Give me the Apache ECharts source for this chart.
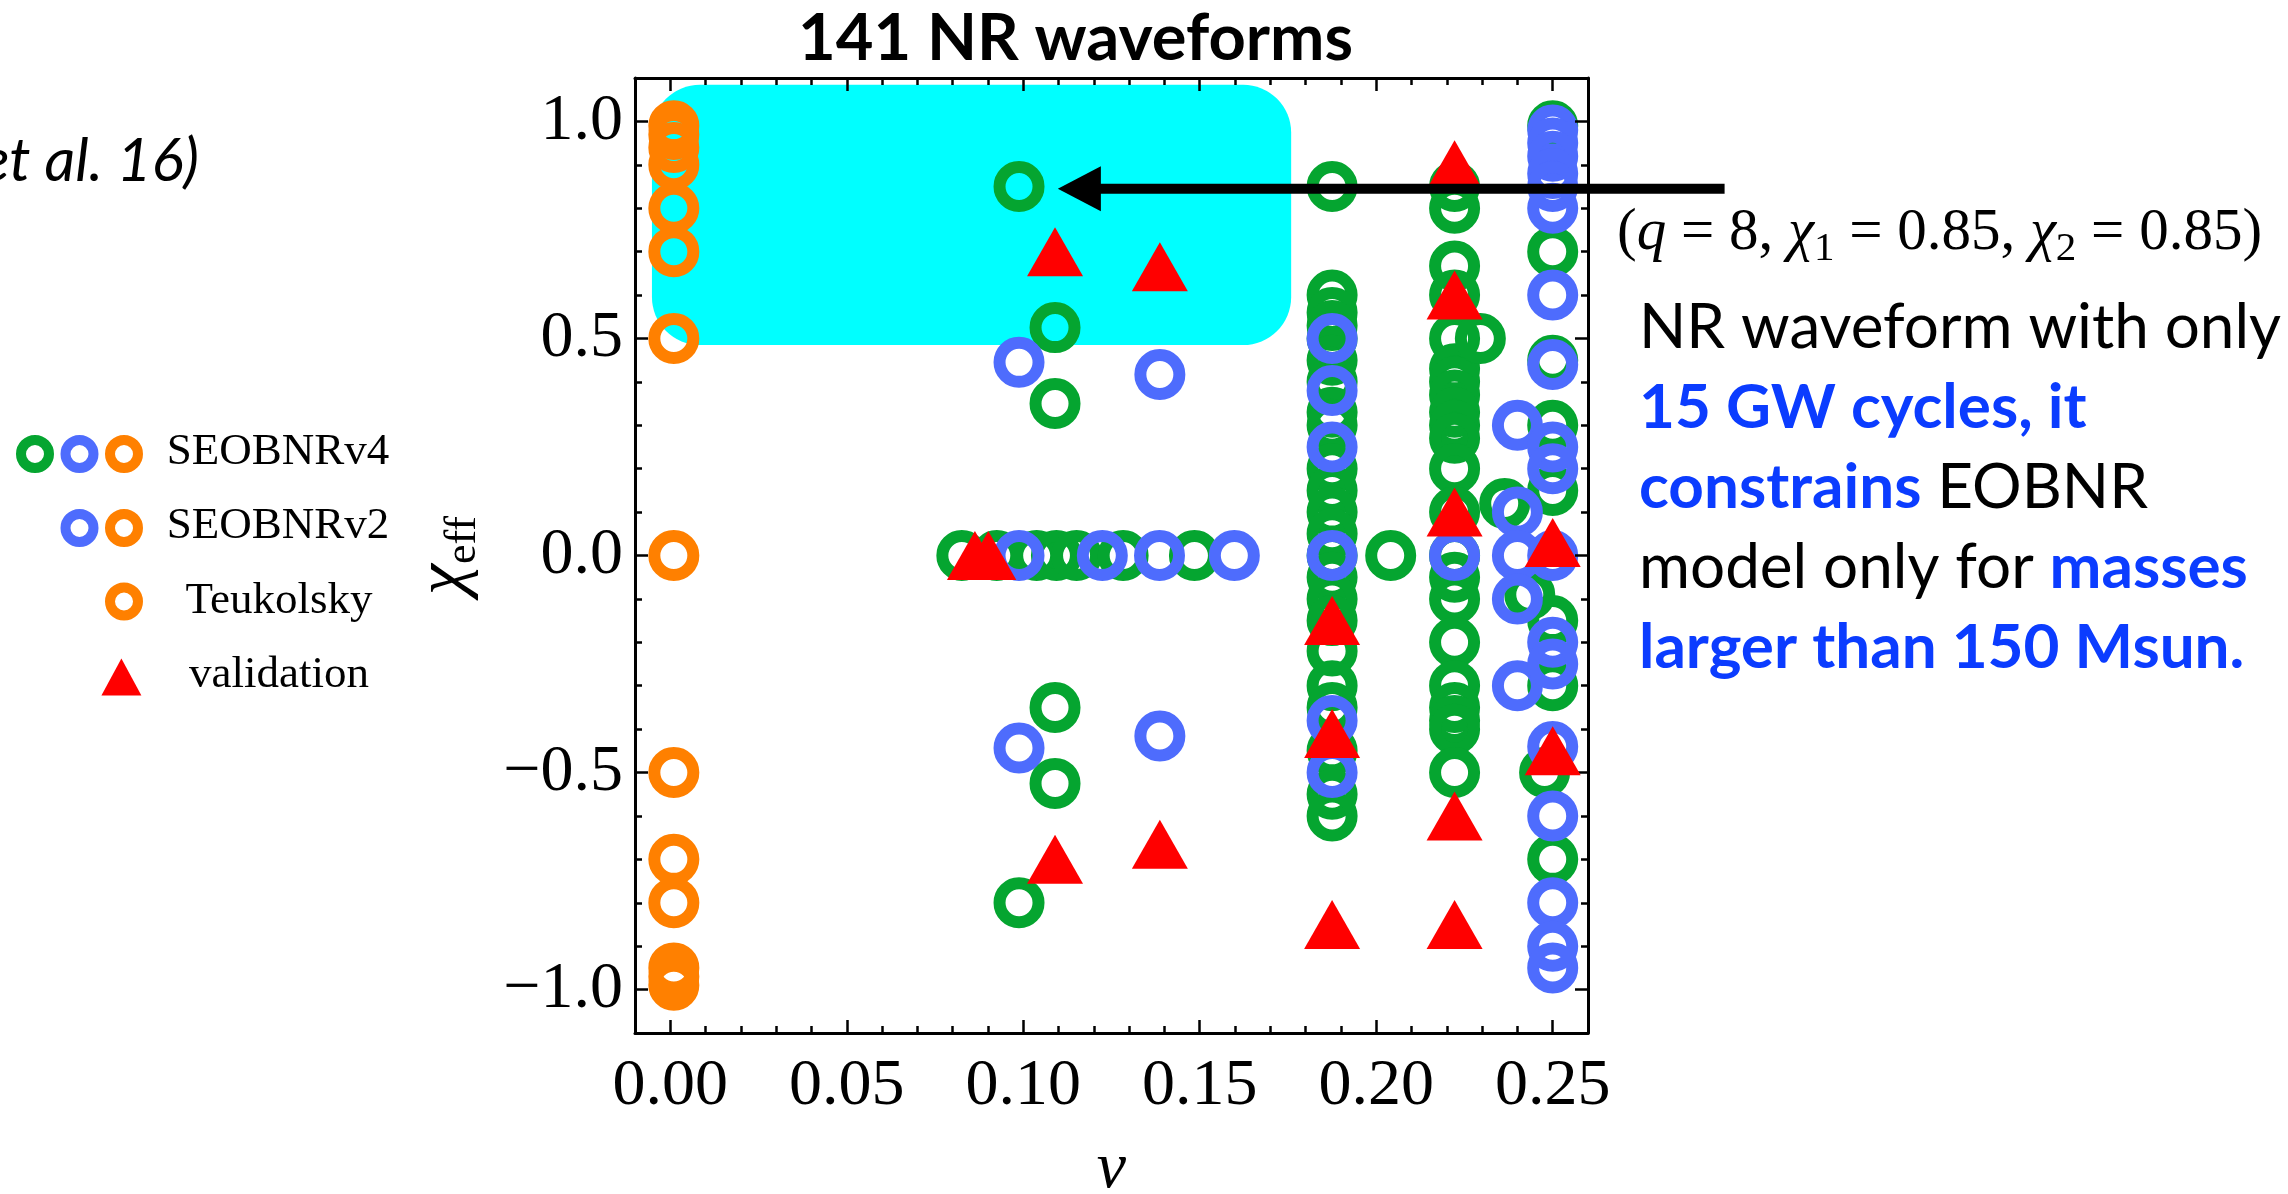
<!DOCTYPE html>
<html><head><meta charset="utf-8">
<script src="https://cdn.jsdelivr.net/npm/echarts@6/dist/echarts.min.js"></script>
<style>html,body{margin:0;padding:0;background:#fff}#c{width:2288px;height:1194px}</style>
</head><body><div id="c"></div>
<script>
// ---------------- data ----------------
const xMajorTicks = [0.00, 0.05, 0.10, 0.15, 0.20, 0.25];
const yMajorTicks = [-1.0, -0.5, 0.0, 0.5, 1.0];

// [nu, chi_eff]
const seobnrv4Points = [
  [0.0988, 0.85], [0.109, 0.525], [0.109, 0.35], [0.109, -0.35], [0.109, -0.525], [0.0988, -0.80],
  [0.0826, 0], [0.0925, 0], [0.1038, 0], [0.1094, 0], [0.1151, 0], [0.1283, 0], [0.1485, 0], [0.2041, 0],
  [0.1875, 0.85], [0.1875, 0.60], [0.1875, 0.56], [0.1875, 0.53], [0.1875, 0.50], [0.1875, 0.45],
  [0.1875, 0.40], [0.1875, 0.33], [0.1875, 0.30], [0.1875, 0.20], [0.1875, 0.15], [0.1875, 0.10],
  [0.1875, 0.05], [0.1875, 0.00], [0.1875, -0.05], [0.1875, -0.10], [0.1875, -0.15], [0.1875, -0.22],
  [0.1875, -0.30], [0.1875, -0.35], [0.1875, -0.45], [0.1875, -0.55], [0.1875, -0.60],
  [0.2222, 0.85], [0.2222, 0.80], [0.2222, 0.667], [0.2222, 0.60], [0.2222, 0.50], [0.2222, 0.43],
  [0.2222, 0.40], [0.2222, 0.37], [0.2222, 0.33], [0.2222, 0.30], [0.2222, 0.27], [0.2222, 0.20],
  [0.2222, 0.10], [0.2222, 0.00], [0.2222, -0.05], [0.2222, -0.10], [0.2222, -0.20], [0.2222, -0.30],
  [0.2222, -0.35], [0.2222, -0.38], [0.2222, -0.40], [0.2222, -0.50],
  [0.2295, 0.50], [0.2364, 0.12], [0.2435, -0.09],
  [0.25, 0.99], [0.25, 0.70], [0.25, 0.45], [0.25, 0.30], [0.25, 0.15], [0.25, -0.15], [0.25, -0.30],
  [0.25, -0.70], [0.2477, -0.50]
];
const seobnrv2Points = [
  [0.0988, 0.445], [0.1387, 0.417], [0.0988, -0.4435], [0.1387, -0.4157],
  [0.0988, 0], [0.1224, 0], [0.1386, 0], [0.1598, 0],
  [0.1875, 0.50], [0.1875, 0.38], [0.1875, 0.25], [0.1875, 0.00], [0.1875, -0.38], [0.1875, -0.50],
  [0.2222, 0.00],
  [0.24, 0.30], [0.24, 0.10], [0.24, 0.00], [0.24, -0.10], [0.24, -0.30],
  [0.25, 0.98], [0.25, 0.95], [0.25, 0.92], [0.25, 0.88], [0.25, 0.85], [0.25, 0.80], [0.25, 0.60],
  [0.25, 0.44], [0.25, 0.25], [0.25, 0.20], [0.25, 0.00], [0.25, -0.20], [0.25, -0.25], [0.25, -0.44],
  [0.25, -0.60], [0.25, -0.80], [0.25, -0.90], [0.25, -0.95]
];
const teukolskyPoints = [
  [0.001, 0.99], [0.001, 0.97], [0.001, 0.94], [0.001, 0.90], [0.001, 0.80], [0.001, 0.70], [0.001, 0.50],
  [0.001, 0.00], [0.001, -0.50], [0.001, -0.70], [0.001, -0.80], [0.001, -0.95], [0.001, -0.97], [0.001, -0.99]
];
const validationPoints = [
  [0.0863, 0], [0.0901, 0], [0.109, 0.70], [0.1387, 0.665], [0.109, -0.70], [0.1387, -0.665],
  [0.1875, -0.15], [0.1875, -0.41], [0.1875, -0.85],
  [0.2222, 0.90], [0.2222, 0.60], [0.2222, 0.10], [0.2222, -0.60], [0.2222, -0.85],
  [0.25, 0.03], [0.25, -0.45]
];
const legendLabels = ['SEOBNRv4', 'SEOBNRv2', 'Teukolsky', 'validation'];
const titleText = '141 NR waveforms';

// annotation anchors (data coordinates)
const highlightBox = { nuMin: -0.0052, nuMax: 0.1759, chiMin: 0.4847, chiMax: 1.0845 };
const arrowSpec = { tipNu: 0.1098, tailNu: 0.2987, chi: 0.8446 };

// ---------------- styles ----------------
const GREEN = '#05a530', BLUE = '#4e6cfd', ORANGE = '#ff8000', RED = '#ff0000', CYAN = '#00ffff', TXTBLUE = '#0b3cff';
const SERIF = '"Liberation Serif", "DejaVu Serif", serif';
const SANS = 'Lato, "Open Sans", sans-serif';

const xMinor = [], yMinor = [];
for (let i = 0; i <= 25; i++) xMinor.push(+(i * 0.01).toFixed(2));
for (let i = -10; i <= 10; i++) yMinor.push(+(i * 0.1).toFixed(1));

function fmtY(v) { return (v < 0 ? '\u2212' : '') + Math.abs(v).toFixed(1); }

function ax(kind, position, ticks, len, showLine, extra) {
  const base = {
    type: 'value', gridIndex: 0, position: position, z: 3,
    min: kind === 'x' ? -0.01 : -1.1, max: kind === 'x' ? 0.26 : 1.1,
    axisLine: { show: showLine, onZero: false, lineStyle: { color: '#000', width: 3 } },
    axisTick: { show: true, inside: true, length: len, customValues: ticks, lineStyle: { color: '#000', width: 2.5 } },
    axisLabel: { show: false }, splitLine: { show: false }, minorTick: { show: false }, axisPointer: { show: false }
  };
  return Object.assign(base, extra || {});
}

const chart = echarts.init(document.getElementById('c'), null, { renderer: 'canvas' });

const ring = c => ({ color: 'rgba(0,0,0,0)', borderColor: c, borderWidth: 12, opacity: 1 });

const option = {
  animation: false,
  backgroundColor: '#fff',
  title: {
    text: titleText, left: 793, top: 2,
    textStyle: { fontFamily: SANS, fontWeight: 'bold', fontSize: 65, color: '#000' }
  },
  grid: { left: 635, right: 700, top: 78, bottom: 161, containLabel: false, outerBoundsMode: 'none' },
  xAxis: [
    ax('x', 'bottom', xMajorTicks, 13, true, {
      axisLabel: { show: true, customValues: xMajorTicks, formatter: v => v.toFixed(2),
        fontFamily: SERIF, fontSize: 66, color: '#000', margin: 21 },
      name: 'ν', nameLocation: 'middle', nameGap: 104,
      nameTextStyle: { fontFamily: SERIF, fontStyle: 'italic', fontSize: 66, color: '#000' }
    }),
    ax('x', 'bottom', xMinor, 7, false),
    ax('x', 'top', xMajorTicks, 13, true),
    ax('x', 'top', xMinor, 7, false)
  ],
  yAxis: [
    ax('y', 'left', yMajorTicks, 13, true, {
      axisLabel: { show: true, customValues: yMajorTicks, formatter: fmtY,
        fontFamily: SERIF, fontSize: 66, color: '#000', margin: 12 },
      name: '{c|χ}{s|eff}', nameLocation: 'middle', nameRotate: 90, nameGap: 150,
      nameTextStyle: { rich: {
        c: { fontFamily: SERIF, fontStyle: 'italic', fontSize: 70, color: '#000' },
        s: { fontFamily: SERIF, fontSize: 44, color: '#000', verticalAlign: 'bottom', padding: [36, 0, 0, 0] }
      } }
    }),
    ax('y', 'left', yMinor, 7, false),
    ax('y', 'right', yMajorTicks, 13, true),
    ax('y', 'right', yMinor, 7, false)
  ],
  series: [
    { type: 'scatter', name: legendLabels[0], data: seobnrv4Points, xAxisIndex: 0, yAxisIndex: 0,
      symbol: 'circle', symbolSize: 39, itemStyle: ring(GREEN), z: 2, silent: true, clip: false, emphasis: { disabled: true } },
    { type: 'scatter', name: legendLabels[1], data: seobnrv2Points, xAxisIndex: 0, yAxisIndex: 0,
      symbol: 'circle', symbolSize: 39, itemStyle: ring(BLUE), z: 2, silent: true, clip: false, emphasis: { disabled: true } },
    { type: 'scatter', name: legendLabels[2], data: teukolskyPoints, xAxisIndex: 0, yAxisIndex: 0,
      symbol: 'circle', symbolSize: 39, itemStyle: ring(ORANGE), z: 2, silent: true, clip: false, emphasis: { disabled: true } },
    { type: 'scatter', name: legendLabels[3], data: validationPoints, xAxisIndex: 0, yAxisIndex: 0,
      symbol: 'triangle', symbolSize: [56, 49], itemStyle: { color: RED, opacity: 1 }, z: 4, silent: true, clip: false, emphasis: { disabled: true } }
  ]
};
chart.setOption(option);

// ---------------- annotations (anchored through the axes) ----------------
const px = (nu, chi) => chart.convertToPixel({ xAxisIndex: 0, yAxisIndex: 0 }, [nu, chi]);
const b0 = px(highlightBox.nuMin, highlightBox.chiMax), b1 = px(highlightBox.nuMax, highlightBox.chiMin);
const tip = px(arrowSpec.tipNu, arrowSpec.chi), tail = px(arrowSpec.tailNu, arrowSpec.chi);

const legendText = { fontFamily: SERIF, fontSize: 45, fill: '#000', align: 'center', verticalAlign: 'middle' };
const ringG = (x, y, c) => ({ type: 'circle', z: 10, shape: { cx: x, cy: y, r: 14 }, style: { fill: 'none', stroke: c, lineWidth: 10 } });
const txt = (x, y, text, st) => ({ type: 'text', z: 10, x: x, y: y, style: Object.assign({ text: text }, st) });

const bodyRich = {
  k: { fontFamily: SANS, fontSize: 62, fill: '#000' },
  b: { fontFamily: SANS, fontSize: 62, fontWeight: 'bold', fill: TXTBLUE }
};
const bodyLine = (y, t) => ({ type: 'text', z: 10, x: 1639, y: y,
  style: { text: t, rich: bodyRich, align: 'left', verticalAlign: 'middle' } });

chart.setOption({
  graphic: [
    { type: 'rect', id: 'box', z: -1, shape: { x: b0[0], y: b0[1], width: b1[0] - b0[0], height: b1[1] - b0[1], r: 48 },
      style: { fill: CYAN } },
    { type: 'line', z: 50, shape: { x1: tail[0], y1: tail[1], x2: tip[0] + 40, y2: tip[1] }, style: { stroke: '#000', lineWidth: 10 } },
    { type: 'polygon', z: 50, shape: { points: [[tip[0], tip[1]], [tip[0] + 43, tip[1] - 22.5], [tip[0] + 43, tip[1] + 22.5]] },
      style: { fill: '#000' } },
    txt(199, 162, 'et al. 16)', { fontFamily: SANS, fontStyle: 'italic', fontSize: 60, fill: '#000', align: 'right', verticalAlign: 'middle' }),
    ringG(35, 454, GREEN), ringG(79.5, 454, BLUE), ringG(124, 454, ORANGE),
    txt(278, 452, legendLabels[0], legendText),
    ringG(79.5, 528, BLUE), ringG(124, 528, ORANGE),
    txt(278, 526, legendLabels[1], legendText),
    ringG(124, 601.5, ORANGE),
    txt(279, 601, legendLabels[2], legendText),
    { type: 'polygon', z: 10, shape: { points: [[121.4, 658.5], [141.4, 695.5], [101.4, 695.5]] }, style: { fill: RED } },
    txt(279, 675, legendLabels[3], legendText),
    { type: 'text', z: 10, x: 1617, y: 233, style: {
        text: '{m|(}{i|q}{m| = 8, }{i|χ}{s|1}{m| = 0.85, }{i|χ}{s|2}{m| = 0.85)}', align: 'left', verticalAlign: 'middle',
        rich: {
          m: { fontFamily: SERIF, fontSize: 59, fill: '#000' },
          i: { fontFamily: SERIF, fontStyle: 'italic', fontSize: 59, fill: '#000' },
          s: { fontFamily: SERIF, fontSize: 41, fill: '#000', verticalAlign: 'bottom', padding: [32, 0, 0, 0] }
        } } },
    bodyLine(328, '{k|NR waveform with only}'),
    bodyLine(408, '{b|15 GW cycles, it}'),
    bodyLine(488, '{b|constrains}{k| EOBNR}'),
    bodyLine(568, '{k|model only for }{b|masses}'),
    bodyLine(648, '{b|larger than 150 Msun.}')
  ]
});
</script>
</body></html>
